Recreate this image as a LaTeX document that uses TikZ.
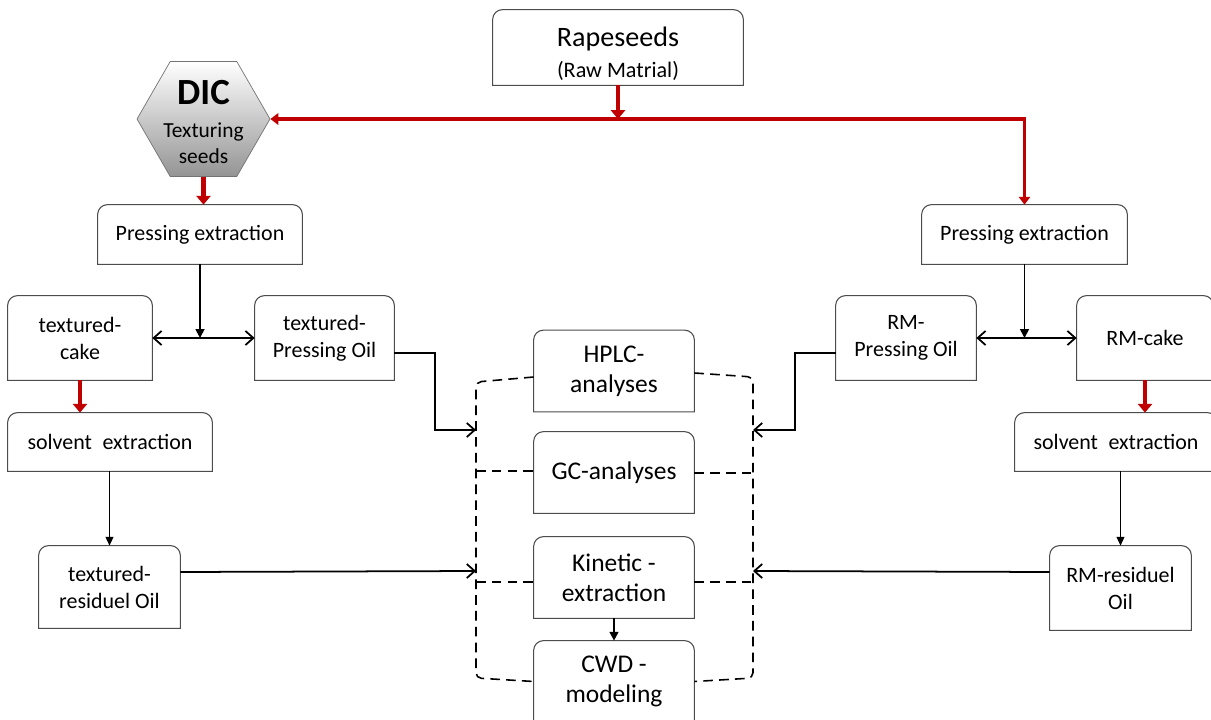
\documentclass[tikz,border=0pt]{standalone}
\usepackage{fontspec}
\setmainfont{Carlito}
\usetikzlibrary{arrows.meta,shapes.geometric}
\definecolor{dicred}{RGB}{192,0,0}
\tikzset{
  box/.style={inner sep=0pt, align=center, font=\fontsize{12.5}{15.4}\selectfont},
  anbox/.style={box, minimum width=3.2cm, minimum height=1.62cm, font=\fontsize{14.5}{17}\selectfont},
  boxline/.style={draw=black!70, line width=0.6pt},
  redbig/.style={draw=dicred, line width=2.8pt, -{Triangle[width=8pt,length=5pt]}},
  redline/.style={draw=dicred, line width=1.8pt},
  conn/.style={line width=1pt},
  openarr/.style={conn, -{Straight Barb[length=4.5pt,width=8pt]}},
  dblarr/.style={conn, {Straight Barb[length=4.5pt,width=8pt]}-{Straight Barb[length=4.5pt,width=8pt]}},
  fillarr/.style={conn, -{Triangle[length=5pt,width=5pt]}},
  thinarr/.style={line width=0.6pt, -{Triangle[length=5pt,width=4.5pt]}},
  dashline/.style={line width=0.9pt, dash pattern=on 5.5pt off 3.5pt}
}
\begin{document}
\begin{tikzpicture}[x=0.02cm, y=-0.02cm]
  \useasboundingbox (0,0) rectangle (1211,720);
  % raw material and DIC
  \node[box, minimum width=5cm, minimum height=1.5cm] (rape) at (618,47.5)
    {{\fontsize{16}{18}\selectfont\rule{0pt}{18pt}Rapeseeds}\\[2pt]{\fontsize{12.6}{14}\selectfont (Raw Matrial)}};
  \node[regular polygon, regular polygon sides=6, minimum size=2.66cm, draw=black!55,
    top color=white, bottom color=black!42, inner sep=0pt] (dic) at (203.5,119) {};
  \node[align=center, inner sep=0pt, font=\fontsize{12.2}{14.8}\selectfont] (dictext) at (203.5,122)
    {{\fontsize{21}{22}\selectfont\bfseries DIC}\\[4pt]Texturing\\seeds};
  % left branch
  \node[box, minimum width=4.08cm, minimum height=1.18cm] (lpe) at (200,234.5) {Pressing extraction};
  \node[box, minimum width=2.88cm, minimum height=1.68cm] (tcake) at (80,338) {textured-\\cake};
  \node[box, minimum width=2.78cm, minimum height=1.68cm] (toil) at (324.5,338) {textured-\\Pressing Oil};
  \node[box, minimum width=4.08cm, minimum height=1.16cm] (lsol) at (110,442) {solvent\hspace{0.25em} extraction};
  \node[box, minimum width=2.82cm, minimum height=1.64cm] (tres) at (109.5,587) {textured-\\residuel Oil};
  % right branch
  \node[box, minimum width=4.1cm, minimum height=1.18cm] (rpe) at (1024.5,234.5) {Pressing extraction};
  \node[box, minimum width=2.8cm, minimum height=1.68cm] (rmoil) at (906,338) {RM-\\Pressing Oil};
  \node[box, minimum width=2.72cm, minimum height=1.68cm] (rmcake) at (1145,338) {RM-cake};
  \node[box, minimum width=4.04cm, minimum height=1.16cm] (rsol) at (1116,442) {solvent\hspace{0.25em} extraction};
  \node[box, minimum width=2.82cm, minimum height=1.68cm] (rres) at (1120.5,588) {RM-residuel\\Oil};
  % analyses
  \node[anbox] (hplc) at (614,371) {HPLC-\\analyses};
  \node[anbox] (gc) at (614,472.5) {GC-analyses};
  \node[anbox] (kin) at (614,577.5) {Kinetic -\\extraction};
  \node[anbox] (cwd) at (614,681.5) {CWD -\\modeling};
  \foreach \n in {rape,lpe,rpe,tcake,toil,lsol,tres,rmoil,rmcake,rsol,rres,hplc,gc,kin,cwd}
    \draw[boxline] (\n.south west) [rounded corners=5.5pt] -- (\n.north west) -- (\n.north east)
      [sharp corners] -- (\n.south east) -- cycle;
  % red flow
  \draw[redline, {Triangle[width=6.5pt,length=4.5pt]}-{Triangle[width=6.5pt,length=4.5pt]}]
    (dic.east) -- (rpe.north |- dic.east) -- (rpe.north);
  \draw[redbig] (rape.south) -- (rape.south |- dic.east);
  \draw[redbig] (dic.south) -- (dic.south |- lpe.north);
  \draw[redbig] (tcake.south) -- (tcake.south |- lsol.north);
  \draw[redbig] (rmcake.south) -- (rmcake.south |- rsol.north);
  % pressing split
  \draw[fillarr] (lpe.south) -- (lpe.south |- tcake.east);
  \draw[dblarr] (tcake.east) -- (toil.west);
  \draw[fillarr] (rpe.south) -- (rpe.south |- rmoil.east);
  \draw[dblarr] (rmoil.east) -- (rmcake.west);
  \draw[thinarr] (tres.north |- lsol.south) -- (tres.north);
  \draw[thinarr] (rres.north |- rsol.south) -- (rres.north);
  % oils to the analyses
  \coordinate (lin1) at (476,430);
  \coordinate (lin2) at (476,571);
  \coordinate (rin1) at (753,430);
  \coordinate (rin2) at (753,571);
  \draw[openarr] ([yshift=-0.3cm]toil.east) -- ++(41,0) |- (lin1);
  \draw[openarr] ([yshift=0.3cm]tres.east) -- (lin2);
  \draw[openarr] ([yshift=-0.3cm]rmoil.west) -- ++(-41,0) |- (rin1);
  \draw[openarr] ([yshift=0.32cm]rres.west) -- (rin2);
  \draw[fillarr] (kin.south) -- (cwd.north);
  % dashed frame
  \draw[dashline, rounded corners=3pt] ([yshift=-0.12cm]hplc.west) -- (476,382) -- (476,678) -- (cwd.west);
  \draw[dashline, rounded corners=3pt] ([yshift=-0.04cm]hplc.east) -- (753,377) -- (753,678) -- (cwd.east);
  \draw[dashline] (476,471) -- (gc.west |- 0,471);
  \draw[dashline] (gc.east |- 0,473) -- (753,473);
  \draw[dashline] (476,582) -- (kin.west |- 0,582);
  \draw[dashline] (kin.east |- 0,582) -- (753,582);
\end{tikzpicture}
\end{document}
